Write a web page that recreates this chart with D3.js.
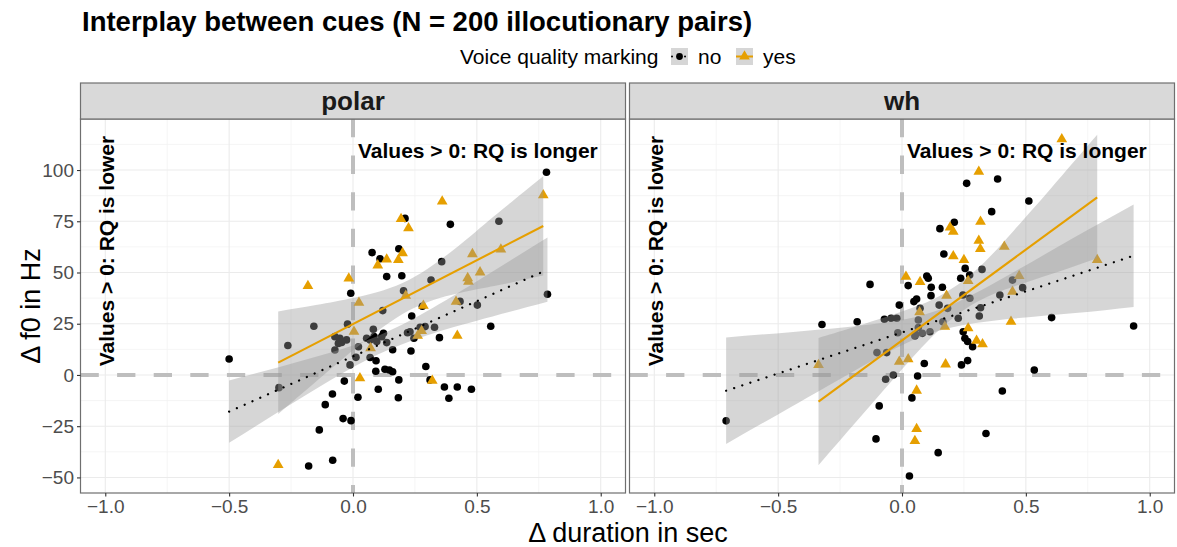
<!DOCTYPE html>
<html><head><meta charset="utf-8">
<script src="https://cdn.jsdelivr.net/npm/d3@7"></script>
<style>
body{margin:0;background:#fff}
text{font-family:"Liberation Sans",Arial,Helvetica,sans-serif}
</style>
</head><body>
<svg id="c" width="1177" height="547"></svg>
<script>
// ---------------- data ----------------
const panelNames = ["polar", "wh"];
const groupNames = ["no", "yes"];
const xTicks = [-1, -0.5, 0, 0.5, 1];
const xTickLabels = ["\u22121.0", "\u22120.5", "0.0", "0.5", "1.0"];
const xMinor = [-0.75, -0.25, 0.25, 0.75];
const yTicks = [-50, -25, 0, 25, 50, 75, 100];
const yTickLabels = ["\u221250", "\u221225", "0", "25", "50", "75", "100"];
const yMinor = [-37.5, -12.5, 12.5, 37.5, 62.5, 87.5, 112.5];

const polarNo = [[-0.50,7.8],[-0.299,-6.2],[-0.263,14.4],[-0.158,23.8],[-0.136,-26.8],[-0.179,-44.4],[-0.082,-41.6],[-0.112,-14.5],[-0.083,-9.3],[-0.035,-3.0],[-0.04,-21.3],[-0.008,-22.3],[-0.022,24.8],[-0.073,18.7],[-0.046,15.9],[-0.059,15.4],[-0.026,17.1],[-0.073,12.2],[-0.053,17.9],[-0.009,39.9],[0.02,-10.9],[0.022,13.8],[0.012,8.6],[-0.012,4.9],[0.055,17.9],[0.082,22.3],[0.085,18.7],[0.123,20.3],[0.136,15.8],[0.096,16.3],[0.16,12.3],[0.069,8.5],[0.093,6.9],[0.092,1.8],[0.129,2.8],[0.147,2.4],[0.16,1.6],[0.185,-2.4],[0.102,-7.0],[0.183,-11.1],[0.294,4.1],[0.311,-2.4],[0.369,-5.9],[0.421,-5.9],[0.478,-7.0],[0.387,-11.4],[0.234,11.7],[0.349,18.2],[0.237,28.8],[0.22,20.6],[0.271,23.3],[0.291,23.6],[0.329,23.3],[0.246,17.9],[0.204,41.1],[0.12,31.4],[0.28,33.5],[0.315,46.3],[0.136,48.0],[0.197,48.4],[0.077,59.7],[0.109,56.7],[0.185,61.6],[0.21,76.4],[0.393,73.5],[0.358,55.3],[0.432,35.9],[0.502,34.1],[0.556,23.8],[0.781,98.9],[0.785,39.4],[0.589,75.0],[0.23,21.1],[0.116,18.7],[0.069,17.1]];
const polarYes = [[-0.302,-43.9],[-0.182,43.4],[-0.017,47.1],[0.004,21.1],[0.024,35.3],[0.071,13.1],[0.028,-1.6],[0.32,-2.8],[0.421,19.2],[0.261,19.2],[0.277,21.5],[0.213,38.7],[0.284,33.8],[0.1,53.5],[0.136,56.4],[0.183,56.1],[0.2,59.5],[0.194,76.1],[0.224,71.6],[0.36,84.7],[0.482,59.0],[0.463,47.3],[0.466,45.5],[0.513,50.1],[0.416,35.8],[0.768,87.7],[0.597,61.3]];
const whNo = [[-0.71,-22.4],[-0.323,24.6],[-0.181,26.0],[-0.129,44.2],[-0.071,27.2],[-0.044,27.7],[-0.021,27.7],[-0.017,20.6],[-0.101,10.9],[-0.062,10.9],[-0.066,-2.1],[-0.035,0.0],[-0.092,-15.1],[-0.105,-31.2],[0.03,-49.3],[0.04,-11.2],[-0.011,34.1],[0.025,43.6],[0.261,93.5],[0.386,95.6],[0.362,79.7],[0.211,74.5],[0.153,71.4],[0.169,59.0],[0.255,52.0],[0.323,51.5],[0.273,48.8],[0.237,47.2],[0.274,37.4],[0.246,39.0],[0.118,42.8],[0.163,42.8],[0.1,48.3],[0.106,47.2],[0.059,37.1],[0.048,35.8],[0.117,38.7],[0.15,34.1],[0.073,32.5],[0.184,32.5],[0.227,27.7],[0.312,28.8],[0.317,32.8],[0.395,39.0],[0.446,46.3],[0.165,26.0],[0.055,19.9],[0.082,20.3],[0.113,21.1],[0.066,26.8],[0.09,5.6],[0.24,4.9],[0.265,7.0],[0.247,21.1],[0.254,17.9],[0.265,16.3],[0.285,13.8],[0.063,-0.5],[0.405,-7.8],[0.512,84.9],[0.487,42.6],[0.604,28.0],[0.935,23.9],[0.534,2.4],[0.339,-28.6],[0.146,-37.9],[0.052,19.0],[0.066,23.1]];
const whYes = [[-0.337,4.9],[0.016,48.0],[-0.011,6.5],[0.025,7.7],[0.31,99.2],[0.194,72.0],[0.207,69.9],[0.317,74.8],[0.31,65.5],[0.316,61.5],[0.413,62.6],[0.207,58.0],[0.25,56.1],[0.267,45.9],[0.18,38.7],[0.073,45.4],[0.071,30.6],[0.446,40.6],[0.473,48.3],[0.44,26.0],[0.173,23.6],[0.176,5.2],[0.267,22.8],[0.301,16.7],[0.325,15.0],[0.059,-7.6],[0.645,115.1],[0.788,56.1],[0.059,-26.3],[0.052,-32.2]];

// fitted lines (x0, y0, x1, y1)
const polarNoFit = [-0.5, -17.9, 0.785, 51.4];
const polarYesFit = [-0.302, 6.0, 0.768, 72.7];
const whNoFit = [-0.71, -7.7, 0.935, 58.2];
const whYesFit = [-0.337, -13.0, 0.788, 86.7];

// confidence bands
const polarNoBandX  = [-0.5, -0.3, -0.1, 0.1, 0.3, 0.5, 0.785];
const polarNoBandLo = [-33.1, -18.0, -3.2, 10.0, 19.4, 26.5, 35.7];
const polarNoBandHi = [-2.7, 3.8, 10.6, 19.0, 31.2, 45.7, 67.1];
const polarYesBandX  = [-0.302, -0.15, 0, 0.1, 0.2, 0.3, 0.4, 0.5, 0.6, 0.768];
const polarYesBandLo = [-19, -3.3, 12.0, 21.5, 29.7, 35.5, 39.1, 41.8, 44.1, 48.5];
const polarYesBandHi = [31, 34.1, 37.6, 40.5, 44.9, 51.7, 60.5, 70.4, 80.5, 97];
const whNoBandX  = [-0.71, -0.45, -0.2, 0, 0.2, 0.45, 0.7, 0.935];
const whNoBandLo = [-33.7, -15.7, 1.5, 14.5, 23.1, 27.5, 30.2, 33.2];
const whNoBandHi = [18.3, 20.9, 23.7, 26.9, 34.3, 50.1, 67.4, 83.2];
const whYesBandX  = [-0.337, -0.2, 0, 0.15, 0.3, 0.45, 0.6, 0.788];
const whYesBandLo = [-44, -24.9, 2.8, 22.0, 35.5, 43.1, 49.1, 57];
const whYesBandHi = [18, 23.1, 31.0, 38.4, 51.3, 70.3, 90.9, 117.2];

// ---------------- drawing ----------------
const svg = d3.select("#c");
const ORANGE = "#E69F00";
const yTop = 119, yBot = 493, stripTop = 83;
const y = d3.scaleLinear().domain([-57.6, 124.9]).range([yBot, yTop]);

const panels = [
  {name: panelNames[0], x0: 80.5, x1: 625.5, no: polarNo, yes: polarYes, fitNo: polarNoFit, fitYes: polarYesFit,
   bNo: [polarNoBandX, polarNoBandLo, polarNoBandHi], bYes: [polarYesBandX, polarYesBandLo, polarYesBandHi]},
  {name: panelNames[1], x0: 629.5, x1: 1174.5, no: whNo, yes: whYes, fitNo: whNoFit, fitYes: whYesFit,
   bNo: [whNoBandX, whNoBandLo, whNoBandHi], bYes: [whYesBandX, whYesBandLo, whYesBandHi]}
];

const tri = d3.symbol().type(d3.symbolTriangle).size(50);

panels.forEach((p, pi) => {
  const x = d3.scaleLinear().domain([-1.1, 1.1]).range([p.x0, p.x1]);
  const clipId = "clip" + pi;
  svg.append("clipPath").attr("id", clipId).append("rect")
    .attr("x", p.x0).attr("y", yTop).attr("width", p.x1 - p.x0).attr("height", yBot - yTop);
  const g = svg.append("g").attr("clip-path", `url(#${clipId})`);

  // grid
  g.selectAll(".xm").data(xMinor).join("line")
    .attr("x1", d => x(d)).attr("x2", d => x(d)).attr("y1", yTop).attr("y2", yBot)
    .attr("stroke", "#f3f3f3").attr("stroke-width", 0.8);
  g.selectAll(".ym").data(yMinor).join("line")
    .attr("y1", d => y(d)).attr("y2", d => y(d)).attr("x1", p.x0).attr("x2", p.x1)
    .attr("stroke", "#f3f3f3").attr("stroke-width", 0.8);
  g.selectAll(".xg").data(xTicks).join("line")
    .attr("x1", d => x(d)).attr("x2", d => x(d)).attr("y1", yTop).attr("y2", yBot)
    .attr("stroke", "#ebebeb").attr("stroke-width", 1.1);
  g.selectAll(".yg").data(yTicks).join("line")
    .attr("y1", d => y(d)).attr("y2", d => y(d)).attr("x1", p.x0).attr("x2", p.x1)
    .attr("stroke", "#ebebeb").attr("stroke-width", 1.1);

  // dashed zero lines
  g.append("line").attr("x1", p.x0).attr("x2", p.x1).attr("y1", y(0)).attr("y2", y(0))
    .attr("stroke", "#bebebe").attr("stroke-width", 4).attr("stroke-dasharray", "18.3,18.3");
  g.append("line").attr("x1", x(0)).attr("x2", x(0)).attr("y1", yTop).attr("y2", yBot)
    .attr("stroke", "#bebebe").attr("stroke-width", 4).attr("stroke-dasharray", "18.3,18.3");

  // points
  g.selectAll(".pn").data(p.no).join("circle")
    .attr("cx", d => x(d[0])).attr("cy", d => y(d[1])).attr("r", 3.8).attr("fill", "#000");
  g.selectAll(".py").data(p.yes).join("path")
    .attr("d", tri).attr("transform", d => `translate(${x(d[0])},${y(d[1])})`).attr("fill", ORANGE);

  // bands
  const area = d3.area().x(d => x(d.x)).y0(d => y(d.lo)).y1(d => y(d.hi)).curve(d3.curveNatural);
  [p.bNo, p.bYes].forEach(b => {
    const pts = b[0].map((xx, i) => ({x: xx, lo: b[1][i], hi: b[2][i]}));
    g.append("path").attr("d", area(pts)).attr("fill", "#999999").attr("fill-opacity", 0.4);
  });

  // fit lines
  const ln = d3.line().x(d => x(d[0])).y(d => y(d[1]));
  g.append("path").attr("d", ln([[p.fitNo[0], p.fitNo[1]], [p.fitNo[2], p.fitNo[3]]]))
    .attr("stroke", "#000").attr("stroke-width", 2.3).attr("fill", "none")
    .attr("stroke-linecap", "round").attr("stroke-dasharray", "0.01,8.5");
  g.append("path").attr("d", ln([[p.fitYes[0], p.fitYes[1]], [p.fitYes[2], p.fitYes[3]]]))
    .attr("stroke", ORANGE).attr("stroke-width", 2.1).attr("fill", "none");

  // annotations
  g.append("text").attr("x", x(0.02)).attr("y", y(106)).attr("font-size", 21).attr("font-weight", "bold")
    .attr("fill", "#000").text("Values > 0: RQ is longer");
  g.append("text").attr("transform", `translate(${x(-0.965)},${y(4.2)}) rotate(-90)`)
    .attr("font-size", 21).attr("font-weight", "bold").attr("fill", "#000")
    .text("Values > 0: RQ is lower");

  // border
  svg.append("rect").attr("x", p.x0).attr("y", yTop).attr("width", p.x1 - p.x0).attr("height", yBot - yTop)
    .attr("fill", "none").attr("stroke", "#6f6f6f").attr("stroke-width", 1.2);

  // strip
  svg.append("rect").attr("x", p.x0).attr("y", stripTop).attr("width", p.x1 - p.x0).attr("height", yTop - stripTop)
    .attr("fill", "#d9d9d9").attr("stroke", "#6f6f6f").attr("stroke-width", 1.2);
  svg.append("text").attr("x", (p.x0 + p.x1) / 2).attr("y", 110).attr("text-anchor", "middle")
    .attr("font-size", 26).attr("font-weight", "bold").attr("fill", "#1a1a1a").text(p.name);

  // x axis
  const xa = svg.append("g").attr("transform", `translate(0,${yBot})`)
    .call(d3.axisBottom(x).tickValues(xTicks).tickFormat((d, i) => xTickLabels[i]).tickSize(3.5).tickPadding(3));
  xa.select(".domain").remove();
  xa.selectAll("line").attr("stroke", "#333").attr("stroke-width", 1.1);
  xa.selectAll("text").attr("font-size", 19).attr("fill", "#4d4d4d")
    .attr("font-family", "'Liberation Sans',Arial,sans-serif");

  if (pi === 0) {
    const ya = svg.append("g").attr("transform", `translate(${p.x0},0)`)
      .call(d3.axisLeft(y).tickValues(yTicks).tickFormat((d, i) => yTickLabels[i]).tickSize(3.5).tickPadding(3));
    ya.select(".domain").remove();
    ya.selectAll("line").attr("stroke", "#333").attr("stroke-width", 1.1);
    ya.selectAll("text").attr("font-size", 19).attr("fill", "#4d4d4d")
      .attr("font-family", "'Liberation Sans',Arial,sans-serif");
  }
});

// titles
svg.append("text").attr("x", 82).attr("y", 31).attr("font-size", 27.5).attr("font-weight", "bold")
  .attr("fill", "#000").text("Interplay between cues (N = 200 illocutionary pairs)");
svg.append("text").attr("x", 628).attr("y", 542).attr("text-anchor", "middle").attr("font-size", 27)
  .attr("fill", "#000").text("\u0394 duration in sec");
svg.append("text").attr("transform", "translate(40,306) rotate(-90)").attr("text-anchor", "middle")
  .attr("font-size", 27).attr("fill", "#000").text("\u0394 f0 in Hz");

// legend
const lg = svg.append("g");
lg.append("text").attr("x", 460).attr("y", 64).attr("font-size", 21).attr("fill", "#000").text("Voice quality marking");
const keyX = [671, 736], labX = [698, 763];
groupNames.forEach((gname, i) => {
  const kx = keyX[i], ky = 48;
  lg.append("rect").attr("x", kx).attr("y", ky).attr("width", 17).attr("height", 17).attr("fill", "#d6d6d6");
  if (i === 0) {
    lg.append("line").attr("x1", kx + 1).attr("x2", kx + 16).attr("y1", ky + 8.5).attr("y2", ky + 8.5)
      .attr("stroke", "#000").attr("stroke-width", 2).attr("stroke-linecap", "round").attr("stroke-dasharray", "0.01,6.5");
    lg.append("circle").attr("cx", kx + 8.5).attr("cy", ky + 8.5).attr("r", 3.4).attr("fill", "#000");
  } else {
    lg.append("line").attr("x1", kx).attr("x2", kx + 17).attr("y1", ky + 8.5).attr("y2", ky + 8.5)
      .attr("stroke", ORANGE).attr("stroke-width", 2);
    lg.append("path").attr("d", tri).attr("transform", `translate(${kx + 8.5},${ky + 8.5})`).attr("fill", ORANGE);
  }
  lg.append("text").attr("x", labX[i]).attr("y", 64).attr("font-size", 21).attr("fill", "#000").text(gname);
});
</script>
</body></html>
